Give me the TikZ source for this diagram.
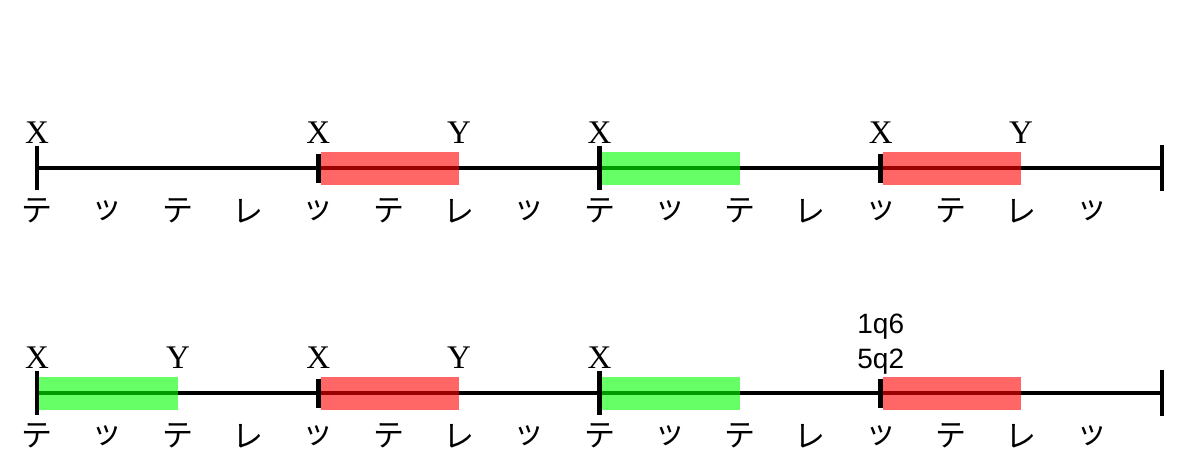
\documentclass[tikz,border=0pt]{standalone}
\usepackage{fontspec}
\setmainfont{Liberation Serif}
\newfontfamily\jpfont{Noto Sans CJK JP}
\newfontfamily\labfont{Liberation Sans}
\tikzset{
  axis/.style={line width=4.6pt},
  redbar/.style={fill=red, fill opacity=0.6},
  greenbar/.style={fill=green, fill opacity=0.6},
  xylabel/.style={font=\fontsize{33}{33}\selectfont, anchor=base, inner sep=0pt},
  kana/.style={font=\jpfont\fontsize{31}{31}\selectfont, inner sep=0pt},
  numlabel/.style={font=\labfont\fontsize{28}{28}\selectfont, anchor=base, inner sep=0pt},
}
\begin{document}
\begin{tikzpicture}[x=1pt,y=-1pt]
\useasboundingbox (0,0) rectangle (1200,450);
% two rows
\foreach \row/\yy/\kk in {a/168/211, b/393/436} {
  \coordinate (\row s) at (37,\yy);
  \coordinate (\row e) at (1162,\yy);
  \draw[axis] (\row s) -- (\row e);
  % ticks
  \draw[axis] (37,\yy-22) -- (37,\yy+22);
  \draw[axis] (318.25,\yy-14.5) -- (318.25,\yy+14.5);
  \draw[axis] (599.5,\yy-22) -- (599.5,\yy+22);
  \draw[axis] (880.75,\yy-14.5) -- (880.75,\yy+14.5);
  \draw[axis] (1162,\yy-23) -- (1162,\yy+23);
  \foreach \c [count=\i from 0] in {テ,ッ,テ,レ,ッ,テ,レ,ッ,テ,ッ,テ,レ,ッ,テ,レ,ッ} {
    \node[kana] (\row k\i) at ({37+70.3125*\i},\kk) {\c};
  }
}
% top row bars
\fill[redbar] (320.5,151.5) rectangle (459,184.5);
\fill[greenbar] (601.75,151.5) rectangle (740,184.5);
\fill[redbar] (883,151.5) rectangle (1021,184.5);
% bottom row bars
\fill[greenbar] (39.25,376.5) rectangle (178,409.5);
\fill[redbar] (320.5,376.5) rectangle (459,409.5);
\fill[greenbar] (601.75,376.5) rectangle (740,409.5);
\fill[redbar] (883,376.5) rectangle (1021,409.5);
% top row labels
\node[xylabel] (ax1) at (37,143) {X};
\node[xylabel] (ax2) at (318.25,143) {X};
\node[xylabel] (ay2) at (459,143) {Y};
\node[xylabel] (ax3) at (599.5,143) {X};
\node[xylabel] (ax4) at (880.75,143) {X};
\node[xylabel] (ay4) at (1021,143) {Y};
% bottom row labels
\node[xylabel] (bx1) at (37,368) {X};
\node[xylabel] (by1) at (178,368) {Y};
\node[xylabel] (bx2) at (318.25,368) {X};
\node[xylabel] (by2) at (459,368) {Y};
\node[xylabel] (bx3) at (599.5,368) {X};
\node[numlabel] (n1) at (880.75,333) {1q6};
\node[numlabel] (n2) at (880.75,368) {5q2};
\end{tikzpicture}
\end{document}
